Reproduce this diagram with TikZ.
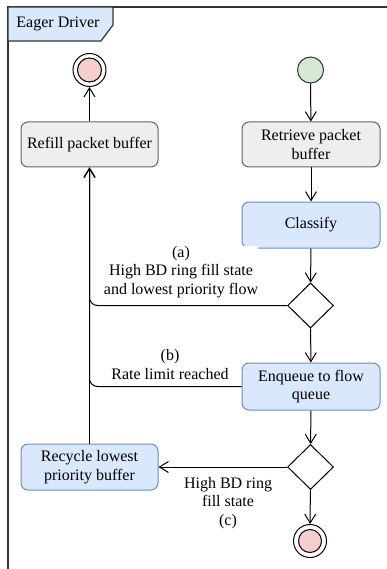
\documentclass[tikz,border=0pt]{standalone}
\usepackage{fontspec}
\setmainfont{Liberation Serif}
\usetikzlibrary{shapes.geometric,arrows.meta}
\definecolor{grayfill}{HTML}{EEEEEE}
\definecolor{graystroke}{HTML}{666666}
\definecolor{bluefill}{HTML}{DAE8FC}
\definecolor{bluestroke}{HTML}{6C8EBF}
\definecolor{greenfill}{HTML}{D5E8D4}
\definecolor{redfill}{HTML}{F8CECC}
\definecolor{framecol}{HTML}{333333}
\tikzset{
  every node/.style={font=\fontsize{16}{18.5}\selectfont, inner sep=0pt},
  graybox/.style={draw=graystroke, fill=grayfill, rounded corners=7pt, line width=1pt, minimum width=138pt, minimum height=45pt, align=center},
  bluebox/.style={draw=bluestroke, fill=bluefill, rounded corners=7pt, line width=1pt, minimum width=138pt, minimum height=46pt, align=center},
  decision/.style={diamond, draw=black, fill=white, line width=1pt, minimum width=46pt, minimum height=45pt, inner sep=0pt},
  startnode/.style={circle, draw=framecol, fill=greenfill, line width=1pt, minimum size=26pt},
  endnode/.style={circle, draw=black, fill=redfill, line width=1pt, minimum size=23pt},
  ring/.style={circle, draw=black, line width=1pt, minimum size=33pt},
  flow/.style={draw=black, line width=1pt, -{Straight Barb[length=9pt,width=11pt,line width=1pt]}},
  lbl/.style={align=center, fill=white, inner sep=0pt},
}
\begin{document}
\begin{tikzpicture}[x=1pt,y=-1pt]
\useasboundingbox (0,0) rectangle (387,569);
\fill[white] (0,0) rectangle (387,569);
% frame
\draw[framecol, line width=1.2pt] (8,569) -- (8,7) -- (387,7);
\filldraw[draw=framecol, fill=bluefill, line width=1.2pt] (8,7) -- (113,7) -- (113,25) -- (101,41) -- (8,41) -- cycle;
\node (title) at (58,24) {Eager Driver};

% nodes
\node[startnode] (start) at (310.5,70) {};
\node[graybox] (retrieve) at (311,144.5) {Retrieve packet\\buffer};
\node[bluebox] (classify) at (311,225) {Classify};
\node[decision] (d1) at (310.5,305.5) {};
\node[bluebox, minimum height=47pt] (enqueue) at (311,386.5) {Enqueue to flow\\queue};
\node[decision] (d2) at (310.5,467) {};
\node[ring] (endring) at (310,541) {};
\node[endnode] (endin) at (310,541) {};
\node[bluebox, minimum width=137pt] (recycle) at (89.5,467) {Recycle lowest\\priority buffer};
\node[graybox, minimum width=137pt] (refill) at (89.5,144.5) {Refill packet buffer};
\node[ring] (finring) at (89.5,70) {};
\node[endnode, minimum size=24pt] (finin) at (89.5,70) {};

% connectors
\draw[flow] (start) -- (retrieve);
\draw[flow] (retrieve) -- (classify);
\draw[flow] (classify) -- (d1);
\draw[flow] (d1) -- (enqueue);
\draw[flow] (enqueue) -- (d2);
\draw[flow] (d2) -- (endring);
\draw[flow] (d2) -- (recycle);
\draw[flow] (refill) -- (finring);
\draw[flow] (recycle.north) -- (refill.south);
\draw[flow, rounded corners=8pt] (d1.west) -| (refill.south);
\draw[flow, rounded corners=8pt] (enqueue.west) -| (refill.south);

% labels
\node[lbl] (la) at (181,272) {(a)\\High BD ring fill state\\and lowest priority flow};
\node[lbl] (lb) at (170,364.5) {(b)\\Rate limit reached};
\node[lbl] (lc) at (228,503) {High BD ring\\fill state\\(c)};
\end{tikzpicture}
\end{document}
